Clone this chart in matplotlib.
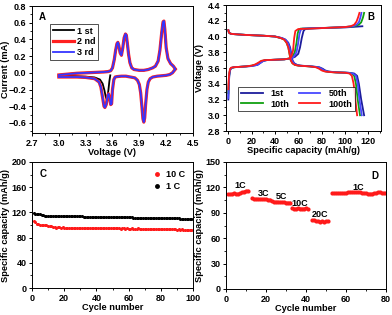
import matplotlib
matplotlib.use("Agg")
import matplotlib.pyplot as plt
from matplotlib.ticker import MultipleLocator

plt.rcParams['font.family'] = ['Liberation Sans', 'DejaVu Sans']
plt.rcParams['font.weight'] = 'bold'
plt.rcParams['axes.labelweight'] = 'bold'

# ---------------- Panel A data (CV) ----------------
cv_anodic_v = [3.00, 3.10, 3.20, 3.30, 3.40, 3.50, 3.55, 3.58, 3.60, 3.62, 3.635, 3.65, 3.66, 3.67, 3.685,
               3.70, 3.715, 3.73, 3.745, 3.755, 3.765, 3.78, 3.795, 3.815, 3.84, 3.90, 3.95, 4.00, 4.05,
               4.08, 4.11, 4.13, 4.15, 4.165, 4.175, 4.185, 4.20, 4.22, 4.25, 4.28, 4.30]
cv_anodic_i = [-0.025, -0.015, -0.005, 0.0, 0.005, 0.01, 0.015, 0.025, 0.06, 0.16, 0.27, 0.35, 0.365, 0.33, 0.24,
               0.21, 0.30, 0.42, 0.465, 0.45, 0.36, 0.22, 0.12, 0.06, 0.04, 0.03, 0.03, 0.04, 0.06,
               0.08, 0.14, 0.27, 0.48, 0.61, 0.62, 0.52, 0.30, 0.17, 0.11, 0.08, 0.05]
cv_cathodic_v = [4.30, 4.27, 4.24, 4.20, 4.15, 4.10, 4.05, 4.02, 4.00, 3.985, 3.97, 3.96, 3.95, 3.94, 3.93,
                 3.915, 3.90, 3.88, 3.85, 3.80, 3.75, 3.70, 3.65, 3.63, 3.615, 3.60, 3.59, 3.58, 3.57,
                 3.555, 3.545, 3.53, 3.515, 3.505, 3.49, 3.47, 3.45, 3.40, 3.30, 3.20, 3.10, 3.00]
cv_cathodic_i = [0.04, 0.0, -0.02, -0.03, -0.035, -0.04, -0.05, -0.07, -0.11, -0.20, -0.38, -0.54, -0.59, -0.55, -0.42,
                 -0.24, -0.14, -0.09, -0.06, -0.05, -0.04, -0.04, -0.045, -0.05, -0.08, -0.20, -0.37, -0.38, -0.31,
                 -0.25, -0.28, -0.38, -0.415, -0.40, -0.30, -0.17, -0.11, -0.07, -0.055, -0.05, -0.05, -0.05]
cv_first_v = [3.575, 3.565, 3.555, 3.545, 3.535, 3.525, 3.51, 3.49, 3.46, 3.40, 3.30, 3.20, 3.10, 3.00]
cv_first_i = [-0.03, -0.10, -0.20, -0.28, -0.315, -0.29, -0.21, -0.13, -0.08, -0.055, -0.045, -0.04, -0.035, -0.03]
cv_labels = ['1 st', '2 nd', '3 rd']

# ---------------- Panel B data (charge/discharge) ----------------
b_labels = ['1st', '10th', '50th', '100th']
b_colors = ['#1c1c9c', '#10a010', '#4848ff', '#ff1a1a']

ch_cap_1 = [0, 0.3, 0.8, 1.5, 2.5, 5, 10, 15, 20, 25, 28, 30, 33, 40, 48, 53, 57, 60, 61.5, 63, 64.5, 66, 70, 85, 100, 110, 115]
ch_v_1 = [3.20, 3.35, 3.50, 3.57, 3.60, 3.61, 3.615, 3.62, 3.625, 3.64, 3.67, 3.69, 3.70, 3.705, 3.71, 3.72, 3.74, 3.78, 3.86, 3.98, 4.07, 4.095, 4.10, 4.11, 4.115, 4.125, 4.13]
ch_cap_10 = [0, 0.3, 0.8, 1.5, 2.5, 5, 10, 15, 20, 24, 27, 29, 32, 40, 48, 52, 55, 57, 58.5, 59.5, 60.5, 62, 70, 85, 100, 108, 112, 114, 115.5, 116.5]
ch_v_10 = [3.28, 3.40, 3.52, 3.58, 3.60, 3.61, 3.615, 3.62, 3.63, 3.645, 3.67, 3.69, 3.70, 3.705, 3.71, 3.72, 3.74, 3.80, 3.92, 4.04, 4.085, 4.10, 4.105, 4.11, 4.12, 4.13, 4.15, 4.18, 4.24, 4.30]
ch_cap_50 = [0, 0.3, 0.8, 1.5, 2.5, 5, 10, 15, 20, 25, 28, 30, 33, 40, 48, 53, 56, 58.5, 60, 61, 62, 63.5, 70, 85, 100, 107, 110, 112, 113.3, 114.2]
ch_v_50 = [3.22, 3.36, 3.51, 3.575, 3.60, 3.61, 3.615, 3.62, 3.625, 3.64, 3.67, 3.69, 3.70, 3.705, 3.71, 3.72, 3.74, 3.80, 3.92, 4.03, 4.08, 4.10, 4.105, 4.11, 4.12, 4.13, 4.15, 4.18, 4.24, 4.30]
ch_cap_100 = [0, 0.3, 0.8, 1.5, 2.5, 5, 10, 15, 20, 23, 26, 28, 31, 40, 48, 52, 54, 55.5, 56.5, 57.5, 60, 70, 85, 100, 105, 108, 110, 111.5, 112.5]
ch_v_100 = [3.33, 3.45, 3.54, 3.59, 3.605, 3.61, 3.615, 3.62, 3.63, 3.645, 3.67, 3.69, 3.70, 3.705, 3.71, 3.72, 3.74, 3.82, 3.98, 4.07, 4.095, 4.10, 4.11, 4.12, 4.13, 4.15, 4.19, 4.25, 4.30]

dis_cap_1 = [0, 0.5, 2, 5, 15, 30, 40, 46, 49, 51.5, 53, 54, 55, 56.5, 59, 62, 72, 78, 81, 83, 86, 93, 103, 108, 110.5, 112, 114, 116.5]
dis_v_1 = [4.08, 4.05, 4.035, 4.03, 4.02, 4.01, 4.0, 3.98, 3.96, 3.92, 3.86, 3.78, 3.70, 3.66, 3.64, 3.63, 3.62, 3.61, 3.59, 3.57, 3.555, 3.545, 3.54, 3.53, 3.50, 3.40, 3.20, 3.0]
dis_cap_10 = [0, 0.5, 2, 5, 15, 30, 40, 45, 48, 50, 51.5, 52.5, 53.5, 55, 57, 60, 70, 76, 79, 81, 84, 91, 101, 106, 108, 109.5, 111, 113]
dis_v_10 = [4.08, 4.05, 4.035, 4.03, 4.02, 4.01, 4.0, 3.98, 3.96, 3.92, 3.86, 3.78, 3.70, 3.66, 3.64, 3.63, 3.62, 3.61, 3.59, 3.57, 3.555, 3.545, 3.54, 3.53, 3.50, 3.40, 3.20, 3.0]
dis_cap_50 = [0, 0.5, 2, 5, 15, 30, 40, 46, 49, 51, 52.5, 53.5, 54.5, 56, 58, 61, 71, 77, 80, 82, 85, 92, 102, 107, 109.5, 111, 112.5, 114.5]
dis_v_50 = [4.08, 4.05, 4.035, 4.03, 4.02, 4.01, 4.0, 3.98, 3.96, 3.92, 3.86, 3.78, 3.70, 3.66, 3.64, 3.63, 3.62, 3.61, 3.59, 3.57, 3.555, 3.545, 3.54, 3.53, 3.50, 3.40, 3.20, 3.0]
dis_cap_100 = [0, 0.5, 2, 5, 15, 30, 40, 45, 48, 50, 51.5, 52.5, 53.5, 55, 57, 60, 70, 75, 78, 80, 83, 90, 100, 104, 106, 107.5, 109, 110.5]
dis_v_100 = [4.08, 4.05, 4.035, 4.03, 4.02, 4.01, 4.0, 3.98, 3.96, 3.92, 3.86, 3.78, 3.70, 3.66, 3.64, 3.63, 3.62, 3.61, 3.59, 3.57, 3.555, 3.545, 3.54, 3.53, 3.50, 3.40, 3.20, 3.0]

# ---------------- Panel C data (cycling) ----------------
c_cycles = list(range(1, 101))
cap_1C = [119, 118, 118, 117, 117, 116, 116, 115, 115, 114,
          114, 114, 114, 114, 114, 114, 114, 114, 114, 114,
          114, 114, 114, 113.5, 113.5, 113.5, 113.5, 113.5, 113.5, 113.5,
          113.5, 113, 113, 113, 113, 113, 113, 113, 113, 113,
          113, 113, 112.5, 112.5, 112.5, 112.5, 112.5, 112.5, 112.5, 112.5,
          112.5, 112, 112, 112, 112, 112, 112, 112, 112, 112,
          112, 112, 111.5, 111.5, 111.5, 111.5, 111.5, 111.5, 111.5, 111.5,
          111.5, 111, 111, 111, 111, 111, 111, 111, 111, 111,
          111, 110.5, 110.5, 110.5, 110.5, 110.5, 110.5, 110.5, 110.5, 110.5,
          110.5, 110, 110, 110, 110, 110, 110, 110, 110, 110]
cap_10C = [107, 104, 102, 101, 100.5, 100, 100, 99.5, 99.5, 99,
           98.5, 98, 97.5, 97, 96, 97, 96.5, 96, 96.5, 96,
           96, 95.5, 96, 95.5, 95.5, 96, 95.5, 95, 95.5, 95,
           95, 95.5, 95, 95, 95.5, 95, 95, 95.5, 95.5, 95,
           95, 94.5, 95, 95, 94.5, 95, 94.5, 94.5, 95, 94.5,
           94.5, 95, 94.5, 94.5, 94, 94.5, 94.5, 94, 94.5, 94,
           94, 94.5, 94, 94, 94, 94.5, 94, 93.5, 94, 94,
           93.5, 94, 93.5, 93.5, 94, 93.5, 93.5, 93.5, 93, 93.5,
           93.5, 93, 93.5, 93, 93, 93.5, 93, 93, 93, 92.5,
           93, 92.5, 93, 92.5, 92.5, 92.5, 92.5, 92.5, 92.5, 92.5]

# ---------------- Panel D data (rate) ----------------
d_cycles_1C_a = list(range(1, 12))
d_cap_1C_a = [112, 112, 112.5, 113, 112.5, 112.5, 113, 114, 115, 116, 116]
d_cycles_3C = list(range(13, 23))
d_cap_3C = [107, 106.5, 106.5, 106.5, 106, 106, 106, 106, 105.5, 105.5]
d_cycles_5C = list(range(23, 33))
d_cap_5C = [103.5, 103, 103, 103, 102.5, 102.5, 102.5, 102, 102, 102]
d_cycles_10C = list(range(33, 42))
d_cap_10C = [95.5, 95, 95, 95.5, 95, 95, 95, 95.5, 94.5]
d_cycles_20C = list(range(43, 52))
d_cap_20C = [81, 81, 80.5, 80, 79.5, 80.5, 79, 80, 80]
d_cycles_1C_b = list(range(53, 81))
d_cap_1C_b = [113, 113, 113, 113, 113, 113, 113, 113.5, 114, 114, 114, 114.5, 114.5, 114,
              114, 113.5, 113.5, 113, 112.5, 112.5, 112.5, 113, 113.5, 114, 114, 113.5, 113.5, 113.5]
d_rate_labels = ['1C', '3C', '5C', '10C', '20C', '1C']
d_label_x = [7, 19, 27.5, 37, 47, 66]
d_label_y = [122, 113, 109, 101.5, 87.5, 120]

# ---------------- Figure ----------------
W, H = 392, 315
fig = plt.figure(figsize=(W / 100, H / 100), dpi=100)

def px_axes(l, t, r, b):
    return fig.add_axes([l / W, 1 - b / H, (r - l) / W, (b - t) / H])

TFS = 6.5
LFS = 6.7

def style(ax):
    ax.tick_params(which='both', direction='out', top=False, right=False, labelsize=TFS, pad=1.5)
    ax.tick_params(which='major', length=2.5, width=0.7)
    ax.tick_params(which='minor', length=1.5, width=0.6)
    for s in ax.spines.values():
        s.set_linewidth(0.7)
    for lab in ax.get_xticklabels() + ax.get_yticklabels():
        lab.set_fontweight('bold')

# Panel A
axA = px_axes(32, 6, 193, 133)
axA.plot(cv_first_v, cv_first_i, color='black', lw=1.3)
axA.plot(cv_anodic_v, cv_anodic_i, color='black', lw=1.3, label=cv_labels[0])
axA.plot(cv_anodic_v, cv_anodic_i, color='#ff2020', lw=2.3)
axA.plot(cv_cathodic_v, cv_cathodic_i, color='#ff2020', lw=2.3, label=cv_labels[1])
axA.plot(cv_anodic_v, cv_anodic_i, color='#3535ff', lw=1.3)
axA.plot(cv_cathodic_v, cv_cathodic_i, color='#3535ff', lw=1.3, label=cv_labels[2])
axA.set_xlim(2.7, 4.5)
axA.set_ylim(-0.72, 0.8)
axA.xaxis.set_major_locator(MultipleLocator(0.3))
axA.xaxis.set_minor_locator(MultipleLocator(0.15))
axA.yaxis.set_major_locator(MultipleLocator(0.2))
axA.yaxis.set_minor_locator(MultipleLocator(0.1))
axA.set_xlabel('Voltage (V)', fontsize=LFS, labelpad=0.5)
axA.set_ylabel('Current (mA)', fontsize=LFS)
axA.yaxis.set_label_coords(-0.135, 0.5)
axA.text(0.045, 0.955, 'A', transform=axA.transAxes, fontsize=7, fontweight='bold', va='top')
legA = axA.legend(loc='upper left', bbox_to_anchor=(0.085, 0.895), fontsize=6.5, frameon=True, fancybox=False,
                  edgecolor='black', handlelength=2.3, handletextpad=0.4, borderpad=0.3, labelspacing=0.2)
legA.get_frame().set_linewidth(0.6)
style(axA)

# Panel B
axB = px_axes(226, 5, 381, 131)
ch_caps = [ch_cap_1, ch_cap_10, ch_cap_50, ch_cap_100]
ch_vs = [ch_v_1, ch_v_10, ch_v_50, ch_v_100]
dis_caps = [dis_cap_1, dis_cap_10, dis_cap_50, dis_cap_100]
dis_vs = [dis_v_1, dis_v_10, dis_v_50, dis_v_100]
for k in range(4):
    axB.plot(ch_caps[k], ch_vs[k], color=b_colors[k], lw=1.3, label=b_labels[k])
    axB.plot(dis_caps[k], dis_vs[k], color=b_colors[k], lw=1.3)
axB.set_xlim(-2, 131)
axB.set_ylim(2.8, 4.4)
axB.xaxis.set_major_locator(MultipleLocator(20))
axB.xaxis.set_minor_locator(MultipleLocator(10))
axB.yaxis.set_major_locator(MultipleLocator(0.2))
axB.yaxis.set_minor_locator(MultipleLocator(0.1))
axB.set_xlabel('Specific capacity (mAh/g)', fontsize=LFS, labelpad=0.5)
axB.set_ylabel('Voltage (V)', fontsize=LFS)
axB.yaxis.set_label_coords(-0.14, 0.5)
axB.text(0.955, 0.945, 'B', transform=axB.transAxes, fontsize=7, fontweight='bold', va='top', ha='right')
legB = axB.legend(ncol=2, loc='lower left',
                  bbox_to_anchor=(0.05, 0.12), fontsize=6.5, frameon=True, fancybox=False,
                  edgecolor='black', handlelength=2.4, handletextpad=0.9, borderpad=0.3,
                  labelspacing=0.15, columnspacing=1.0)
legB.get_frame().set_linewidth(0.6)
style(axB)

# Panel C
axC = px_axes(32, 162, 193, 288)
axC.plot(c_cycles, cap_10C, 'o', color='#ff1a1a', ms=2.2, mew=0, label='10 C')
axC.plot(c_cycles, cap_1C, 'o', color='black', ms=2.2, mew=0, label='1 C')
axC.set_xlim(0, 100)
axC.set_ylim(0, 200)
axC.xaxis.set_major_locator(MultipleLocator(20))
axC.xaxis.set_minor_locator(MultipleLocator(10))
axC.yaxis.set_major_locator(MultipleLocator(40))
axC.yaxis.set_minor_locator(MultipleLocator(20))
axC.set_xlabel('Cycle number', fontsize=LFS, labelpad=0.5)
axC.set_ylabel('Specific capacity (mAh/g)', fontsize=LFS)
axC.yaxis.set_label_coords(-0.135, 0.5)
axC.text(0.045, 0.945, 'C', transform=axC.transAxes, fontsize=7, fontweight='bold', va='top')
axC.legend(loc='upper right', bbox_to_anchor=(1.0, 1.0), fontsize=6.5, frameon=False, markerscale=1.6,
           handlelength=1.0, handletextpad=0.5, labelspacing=0.3)
style(axC)

# Panel D
axD = px_axes(226, 162, 386, 289)
for xs, ys in [(d_cycles_1C_a, d_cap_1C_a), (d_cycles_3C, d_cap_3C), (d_cycles_5C, d_cap_5C),
               (d_cycles_10C, d_cap_10C), (d_cycles_20C, d_cap_20C), (d_cycles_1C_b, d_cap_1C_b)]:
    axD.plot(xs, ys, 'o-', color='#ff1a1a', ms=3.0, mew=0, lw=1.5)
for t, x, y in zip(d_rate_labels, d_label_x, d_label_y):
    axD.text(x, y, t, fontsize=6.5, fontweight='bold', ha='center', va='center')
axD.set_xlim(0, 80)
axD.set_ylim(0, 150)
axD.xaxis.set_major_locator(MultipleLocator(20))
axD.xaxis.set_minor_locator(MultipleLocator(10))
axD.yaxis.set_major_locator(MultipleLocator(30))
axD.yaxis.set_minor_locator(MultipleLocator(15))
axD.set_xlabel('Cycle number', fontsize=LFS, labelpad=0.5)
axD.set_ylabel('Specific capacity (mAh/g)', fontsize=LFS)
axD.yaxis.set_label_coords(-0.135, 0.5)
axD.text(0.955, 0.93, 'D', transform=axD.transAxes, fontsize=7, fontweight='bold', va='top', ha='right')
style(axD)

fig.savefig('out.png', dpi=100)
